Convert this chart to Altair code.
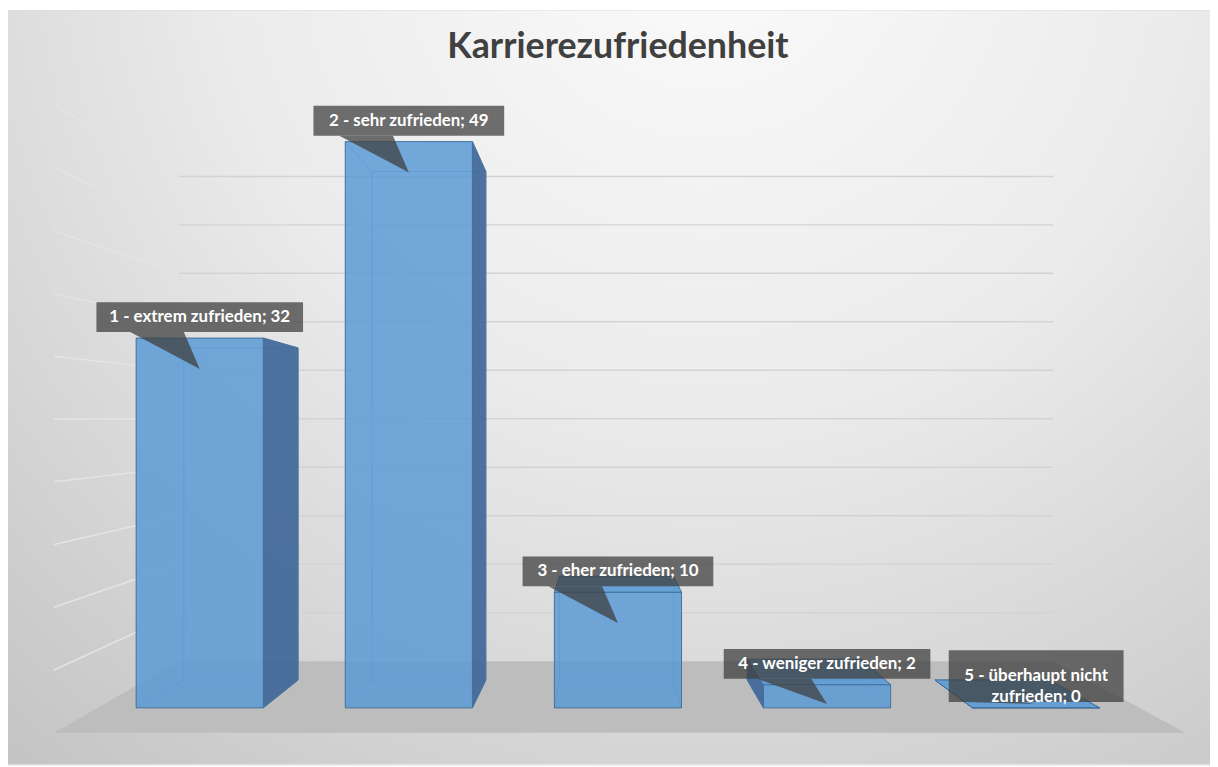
import textwrap
import altair as alt
import pandas as pd

# ---------------- data ----------------
categories = [
    "1 - extrem zufrieden",
    "2 - sehr zufrieden",
    "3 - eher zufrieden",
    "4 - weniger zufrieden",
    "5 - überhaupt  nicht zufrieden",
]
values = [32, 49, 10, 2, 0]
grid_values = [5, 10, 15, 20, 25, 30, 35, 40, 45, 50]
chart_title = "Karrierezufriedenheit"

# ---------------- layout / style (pixels) ----------------
W, H = 1210, 759
STEP_PX = 210.5          # distance between bar centres
UNIT_PX = 570 / 49       # pixels per value unit on the front plane
X0_PX, Y0_PX = 193, 702  # first bar centre / value zero
VP_BAR_PX = (600, 427)   # vanishing point used for the bar boxes
VP_WALL_PX = (600, 410)  # vanishing point used for walls and floor
S_BACK, S_WALL, S_FLOOR_FRONT = 0.898, 0.839, 1.0856
WALL_LEFT_PX, WALL_RIGHT_PX = 90, 1139
BAR_W_PX = 128
BOX_GAP_PX, BOX_LINE_PX, BOX_PAD_PX = 6, 22, 8
POINTER_LEN_PX = 37

FRONT_FILL = "#5b9bd5"
SIDE_FILL = "#41689a"
EDGE = "#41719c"
CALLOUT = "#404040"
FONT = "Lato"


def ux(px):
    return (px - X0_PX) / STEP_PX


def uy(px):
    return (Y0_PX - px) / UNIT_PX


def dux(d):
    return d / STEP_PX


def duy(d):
    return d / UNIT_PX


VB = (ux(VP_BAR_PX[0]), uy(VP_BAR_PX[1]))
VW = (ux(VP_WALL_PX[0]), uy(VP_WALL_PX[1]))
VX = VB[0]
VY = VB[1]


def proj(p, s, v=VB):
    return (v[0] + s * (p[0] - v[0]), v[1] + s * (p[1] - v[1]))


def area_rows(pid, pts):
    xs = sorted({round(p[0], 9) for p in pts})
    rows = []
    n = len(pts)
    for X in xs:
        ys = []
        for k in range(n):
            (x1, y1), (x2, y2) = pts[k], pts[(k + 1) % n]
            if abs(x2 - x1) < 1e-9:
                if abs(x1 - X) < 1e-7:
                    ys += [y1, y2]
            elif min(x1, x2) - 1e-7 <= X <= max(x1, x2) + 1e-7:
                t = (X - x1) / (x2 - x1)
                ys.append(y1 + t * (y2 - y1))
        rows.append({"pid": pid, "x": X, "yu": max(ys), "yl": min(ys)})
    return rows


XS = alt.Scale(domain=[ux(0), ux(W)], nice=False, zero=False)
YS = alt.Scale(domain=[uy(H), uy(0)], nice=False, zero=False)


def X(f):
    return alt.X(f, type="quantitative", scale=XS, axis=None)


def Y(f):
    return alt.Y(f, type="quantitative", scale=YS, axis=None)


# ---------------- background ----------------
grad = alt.RadialGradient(
    gradient="radial",
    x1=0.58, y1=0.12, r1=0.0,
    x2=0.58, y2=0.12, r2=0.9,
    stops=[
        alt.GradientStop(offset=0.0, color="#fbfbfb"),
        alt.GradientStop(offset=0.45, color="#ebebeb"),
        alt.GradientStop(offset=1.0, color="#c4c4c4"),
    ],
)
bg = alt.Chart(pd.DataFrame({"a": [0]})).mark_rect(fill=grad, strokeWidth=0).encode(
    x=alt.value(0), x2=alt.value(W), y=alt.value(0), y2=alt.value(H)
)

# ---------------- walls: gridlines ----------------
LW, RW = ux(WALL_LEFT_PX), ux(WALL_RIGHT_PX)
grid_rows = []
for g in grid_values:
    a = proj((LW, g), S_WALL, VW)
    b = proj((RW, g), S_WALL, VW)
    grid_rows.append({"x1": a[0], "y1": a[1], "x2": b[0], "y2": b[1], "kind": "back"})
    c = proj((LW, g), S_FLOOR_FRONT, VW)
    grid_rows.append({"x1": c[0], "y1": c[1], "x2": a[0], "y2": a[1], "kind": "side"})
grid_df = pd.DataFrame(grid_rows)
grid = alt.Chart(grid_df).mark_rule(strokeWidth=1.5).encode(
    x=X("x1"), y=Y("y1"), x2="x2:Q", y2="y2:Q",
    color=alt.Color("kind:N", scale=alt.Scale(domain=["back", "side"], range=["#d3d3d3", "#e4e4e4"]), legend=None),
)

# ---------------- floor ----------------
floor_pts = [
    proj((LW, 0), S_FLOOR_FRONT, VW),
    proj((LW, 0), S_WALL, VW),
    proj((RW, 0), S_WALL, VW),
    proj((RW, 0), S_FLOOR_FRONT, VW),
]
floor = alt.Chart(pd.DataFrame(area_rows("floor", floor_pts))).mark_area(
    color="#bdbdbd", orient="vertical"
).encode(x=X("x"), y=Y("yu"), y2="yl:Q", detail="pid:N")

# ---------------- bars ----------------
hw = dux(BAR_W_PX / 2)
edge_rows, side_rows, top_rows, front_rows = [], [], [], []
for i, (cat, v) in enumerate(zip(categories, values)):
    xl, xr = i - hw, i + hw
    F = [(xl, 0), (xr, 0), (xr, v), (xl, v)]
    B = [proj(p, S_BACK) for p in F]
    for k in range(4):
        a, b = B[k], B[(k + 1) % 4]
        edge_rows.append({"x1": a[0], "y1": a[1], "x2": b[0], "y2": b[1]})
        edge_rows.append({"x1": F[k][0], "y1": F[k][1], "x2": B[k][0], "y2": B[k][1]})
    if xr < VX:
        side_rows += area_rows(f"s{i}", [F[1], F[2], B[2], B[1]])
    elif xl > VX:
        side_rows += area_rows(f"s{i}", [F[0], F[3], B[3], B[0]])
    if v < VY:
        top_rows += area_rows(f"t{i}", [F[3], F[2], B[2], B[3]])
    front_rows.append({"cat": cat, "xl": xl, "xr": xr, "y0": 0, "v": v})

edges = alt.Chart(pd.DataFrame(edge_rows)).mark_rule(
    color=EDGE, strokeWidth=1, opacity=0.55
).encode(x=X("x1"), y=Y("y1"), x2="x2:Q", y2="y2:Q")

sides = alt.Chart(pd.DataFrame(side_rows)).mark_area(
    color=SIDE_FILL, opacity=0.92, orient="vertical", stroke=EDGE, strokeWidth=1
).encode(x=X("x"), y=Y("yu"), y2="yl:Q", detail="pid:N")

tops = alt.Chart(pd.DataFrame(top_rows)).mark_area(
    color=FRONT_FILL, opacity=0.9, orient="vertical", stroke=EDGE, strokeWidth=1
).encode(x=X("x"), y=Y("yu"), y2="yl:Q", detail="pid:N")

fronts = alt.Chart(pd.DataFrame(front_rows)).mark_rect(
    fill=FRONT_FILL, fillOpacity=0.85, stroke=EDGE, strokeWidth=1
).encode(x=X("xl"), x2="xr:Q", y=Y("y0"), y2="v:Q")

# ---------------- data callouts ----------------
box_rows, ptr_rows, txt_rows = [], [], []
for i, (cat, v) in enumerate(zip(categories, values)):
    lines = textwrap.wrap(f"{cat}; {v}", 24)
    maxlen = max(len(s) for s in lines)
    bw = 8.0 * maxlen + 2 * BOX_PAD_PX
    bh = 30 + BOX_LINE_PX * (len(lines) - 1)
    bottom = v + duy(BOX_GAP_PX)
    top = bottom + duy(bh)
    box_rows.append({"x1": i - dux(bw / 2), "x2": i + dux(bw / 2), "y1": bottom, "y2": top})
    txt_rows.append({"cx": i, "cy": (bottom + top) / 2, "label": "\n".join(lines)})
    tip_y = max(bottom - duy(POINTER_LEN_PX), duy(4))
    ptr_rows += area_rows(f"p{i}", [(i - dux(70), bottom), (i - dux(16), bottom), (i, tip_y)])

pointers = alt.Chart(pd.DataFrame(ptr_rows)).mark_area(
    color=CALLOUT, opacity=0.75, orient="vertical"
).encode(x=X("x"), y=Y("yu"), y2="yl:Q", detail="pid:N")

boxes = alt.Chart(pd.DataFrame(box_rows)).mark_rect(
    fill=CALLOUT, fillOpacity=0.75, strokeWidth=0
).encode(x=X("x1"), x2="x2:Q", y=Y("y1"), y2="y2:Q")

texts = alt.Chart(pd.DataFrame(txt_rows)).mark_text(
    font=FONT, fontSize=17, fontWeight="bold", color="white", align="center", baseline="middle",
    lineBreak="\n", lineHeight=21,
).encode(x=X("cx"), y=Y("cy"), text="label:N")

title = alt.Chart(pd.DataFrame({"t": [chart_title]})).mark_text(
    font=FONT, fontSize=36, fontWeight="bold", color="#404040", align="center", baseline="middle"
).encode(x=alt.value(614), y=alt.value(37), text="t:N")

chart = alt.layer(
    bg, grid, floor, edges, sides, tops, fronts, pointers, boxes, texts, title
).properties(width=W, height=H, padding=0).configure_view(stroke="#d9d9d9", strokeWidth=1)

chart.save("out.html", embed_options={"renderer": "svg", "actions": False})
